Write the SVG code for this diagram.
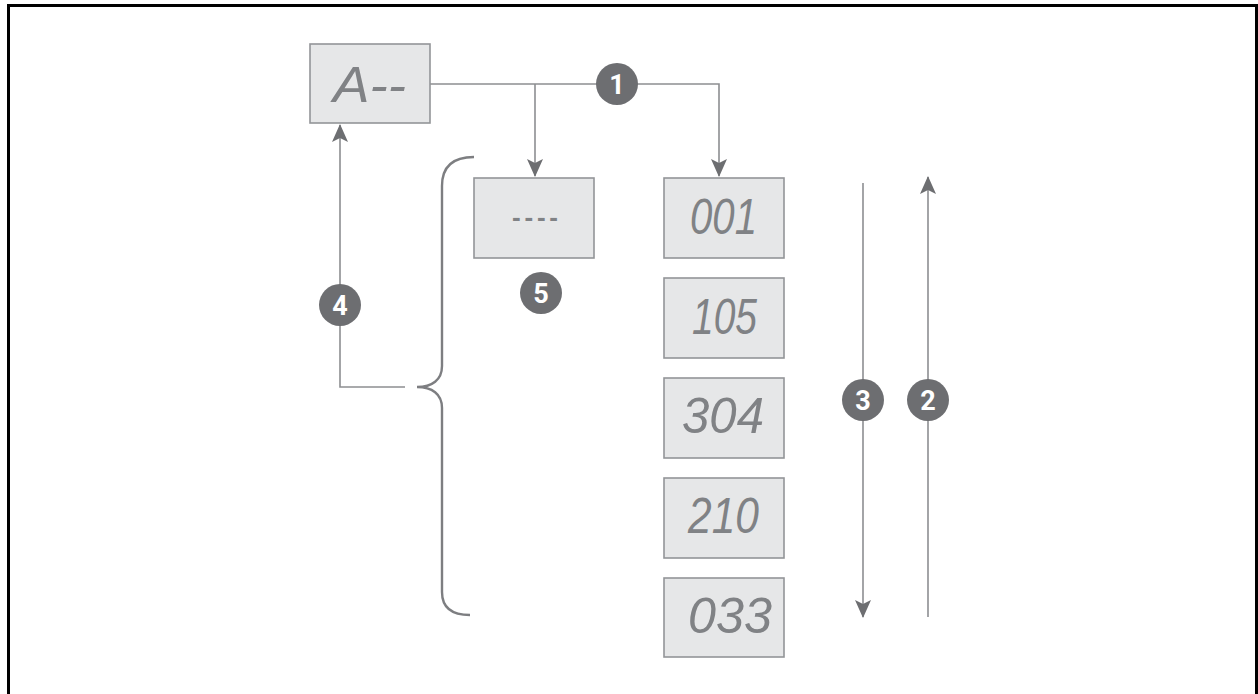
<svg xmlns="http://www.w3.org/2000/svg" width="1258" height="694" viewBox="0 0 1258 694">
<style>
.box{fill:#e6e7e8;stroke:#939598;stroke-width:1.6}
.lcd{font-family:"Liberation Sans",Arial,sans-serif;font-style:italic;font-size:50px;fill:#808285}
.dash{font-family:"Liberation Sans",Arial,sans-serif;font-size:26px;font-weight:bold;fill:#808285}
.ln{fill:none;stroke:#8d8e91;stroke-width:1.6}
.brace{fill:none;stroke:#7d7e81;stroke-width:2.4}
.badge circle{fill:#6d6e71}
.badge text{font-family:Roboto,"Liberation Sans",sans-serif;font-weight:bold;font-size:27px;fill:#ffffff;text-anchor:middle}
</style>
<defs>
<marker id="ah" viewBox="0 0 18 16" refX="17" refY="8" markerWidth="18" markerHeight="16" markerUnits="userSpaceOnUse" orient="auto">
<path d="M0,0 L18,8 L0,16 L4,8 Z" fill="#6d6e71"/>
</marker>
</defs>
<rect width="1258" height="694" fill="#ffffff"/>
<path d="M8.5,694 V5.5 H1256.5 V694" fill="none" stroke="#000" stroke-width="3"/>

<g id="connectors">
<path class="ln" d="M430,84 H719 V176" marker-end="url(#ah)"/>
<path class="ln" d="M535,84 V176" marker-end="url(#ah)"/>
<path class="ln" d="M405,387 H340 V125" marker-end="url(#ah)"/>
<path class="ln" d="M863,183 V617" marker-end="url(#ah)"/>
<path class="ln" d="M928,617 V177" marker-end="url(#ah)"/>
<path class="brace" d="M474,157 C454,157 442,166 442,186 V366 C442,380 432,387 417,387 C432,387 442,394 442,408 V592 C442,608 452,615 470,615"/>
</g>

<g id="node-A"><rect class="box" x="310" y="44" width="120" height="79"/><text class="lcd" x="333" y="102" textLength="73" lengthAdjust="spacingAndGlyphs">A--</text></g>
<g id="node-blank"><rect class="box" x="474" y="178" width="120" height="80"/><text class="dash" x="512" y="226" textLength="46" lengthAdjust="spacing">----</text></g>
<g id="node-001"><rect class="box" x="664" y="178" width="120" height="80"/><text class="lcd" x="690" y="234" textLength="67" lengthAdjust="spacingAndGlyphs">001</text></g>
<g id="node-105"><rect class="box" x="664" y="278" width="120" height="80"/><text class="lcd" x="692" y="334" textLength="65" lengthAdjust="spacingAndGlyphs">105</text></g>
<g id="node-304"><rect class="box" x="664" y="378" width="120" height="80"/><text class="lcd" x="682" y="433" textLength="82" lengthAdjust="spacingAndGlyphs">304</text></g>
<g id="node-210"><rect class="box" x="664" y="478" width="120" height="80"/><text class="lcd" x="688" y="533" textLength="71" lengthAdjust="spacingAndGlyphs">210</text></g>
<g id="node-033"><rect class="box" x="664" y="578" width="120" height="79"/><text class="lcd" x="688" y="633" textLength="84" lengthAdjust="spacingAndGlyphs">033</text></g>

<g id="badge-1" class="badge"><circle cx="617" cy="84" r="21"/><text x="617" y="93.5">1</text></g>
<g id="badge-2" class="badge"><circle cx="928" cy="400" r="21"/><text x="928" y="409.5">2</text></g>
<g id="badge-3" class="badge"><circle cx="863" cy="400" r="21"/><text x="863" y="409.5">3</text></g>
<g id="badge-4" class="badge"><circle cx="340" cy="305" r="21"/><text x="340" y="314.5">4</text></g>
<g id="badge-5" class="badge"><circle cx="541" cy="293" r="21"/><text x="541" y="302.5">5</text></g>
</svg>
